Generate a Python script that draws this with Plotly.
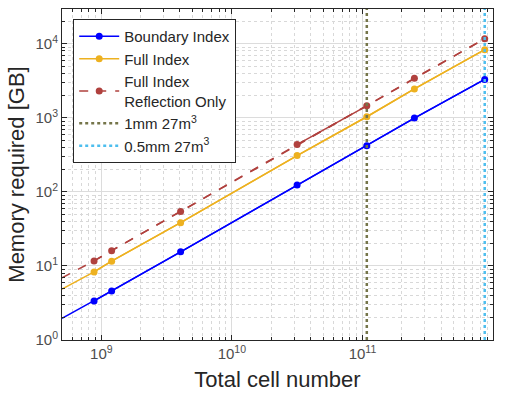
import numpy as np
import plotly.graph_objects as go

# Total cell counts for each simulated configuration
cells = [8.8e8, 1.2e9, 4.05e9, 3.16e10, 1.08e11, 2.5e11, 8.64e11]

# Memory required [GB]
boundary_index = [3.35, 4.6, 15.5, 124, 420, 993, 3300]
full_index = [8.3, 11.6, 38.4, 309, 1035, 2455, 8320]
full_index_reflection = [11.7, 16.1, 54.5, 435, 1455, 3435, 11700]

# Trend lines continue down to the left axis limit
trend_start_cells = 5e8
boundary_start = 1.96
full_start = 4.86
reflection_start = 6.9

# Reference grid resolutions (cells for a 27 m^3 domain)
res_1mm_cells = 1.08e11
res_05mm_cells = 8.64e11

x_range = [np.log10(5e8), 12.0]
y_range = [0.0, 4.47]

x_ticks = [1e9, 1e10, 1e11, 1e12]
x_ticktext = ["10<sup>9</sup>", "10<sup>10</sup>", "10<sup>11</sup>", "10<sup>12</sup>"]
y_ticks = [1, 10, 100, 1000, 10000]
y_ticktext = ["10<sup>0</sup>", "10<sup>1</sup>", "10<sup>2</sup>", "10<sup>3</sup>", "10<sup>4</sup>"]

BLUE = "#0000FF"
YELLOW = "#EDB120"
RED = "#B0413E"
OLIVE = "#75754A"
LIGHTBLUE = "#4DBEEE"
FONT = "Liberation Sans, Arial, sans-serif"

def minor_vals(lo, hi):
    vals = []
    for k in range(int(np.floor(lo)), int(np.ceil(hi)) + 1):
        for m in range(2, 10):
            v = m * 10.0 ** k
            if 10 ** lo <= v <= 10 ** hi:
                vals.append(v)
    return vals

fig = go.Figure()

def series(name, values, start, color, dash, show=True):
    fig.add_trace(go.Scatter(
        x=[trend_start_cells] + cells, y=[start] + values,
        mode="lines", line=dict(color=color, width=1.5, dash=dash),
        showlegend=False, hoverinfo="skip"))
    fig.add_trace(go.Scatter(
        x=cells, y=values, name=name, mode="lines+markers",
        line=dict(color=color, width=1.5, dash=dash),
        marker=dict(color=color, size=7), showlegend=show))

series("Boundary Index", boundary_index, boundary_start, BLUE, "solid")
series("Full Index", full_index, full_start, YELLOW, "solid")
series("Full Index<br>Reflection Only", full_index_reflection, reflection_start, RED, "dash")
# solid stretch of the reflection-only curve between the 4th and 5th points
fig.add_trace(go.Scatter(
    x=cells[3:5], y=full_index_reflection[3:5], mode="lines",
    line=dict(color=RED, width=1.5), showlegend=False, hoverinfo="skip"))

y_lo, y_hi = 10 ** y_range[0], 10 ** y_range[1]
fig.add_trace(go.Scatter(
    x=[res_1mm_cells, res_1mm_cells], y=[y_lo, y_hi], mode="lines",
    name="1mm 27m<sup>3</sup>", line=dict(color=OLIVE, width=2.5, dash="dot")))
fig.add_trace(go.Scatter(
    x=[res_05mm_cells, res_05mm_cells], y=[y_lo, y_hi], mode="lines",
    name="0.5mm 27m<sup>3</sup>", line=dict(color=LIGHTBLUE, width=2.5, dash="dot")))

axis_common = dict(
    type="log", showline=True, linecolor="#262626", linewidth=1, mirror="allticks",
    ticks="inside", ticklen=5, tickcolor="#262626",
    showgrid=True, gridcolor="#dcdcdc", gridwidth=1, zeroline=False,
    tickfont=dict(family=FONT, size=15, color="#4d4d4d"),
)

fig.update_xaxes(
    **axis_common, range=x_range, tickmode="array", tickvals=x_ticks, ticktext=x_ticktext,
    title=dict(text="Total cell number", font=dict(family=FONT, size=22, color="#262626"),
               standoff=10),
    minor=dict(tickmode="array", tickvals=minor_vals(*x_range), showgrid=True,
               gridcolor="#d8d8d8", griddash="dot", ticks="inside", ticklen=3, tickcolor="#262626"),
)
fig.update_yaxes(
    **axis_common, range=y_range, tickmode="array", tickvals=y_ticks, ticktext=y_ticktext,
    title=dict(text="Memory required [GB]", font=dict(family=FONT, size=22, color="#262626"),
               standoff=4),
    minor=dict(tickmode="array", tickvals=minor_vals(*y_range), showgrid=True,
               gridcolor="#d8d8d8", griddash="dot", ticks="inside", ticklen=3, tickcolor="#262626"),
)

fig.update_layout(
    width=505, height=396,
    margin=dict(l=62, r=12, t=9, b=56),
    paper_bgcolor="white", plot_bgcolor="white",
    font=dict(family=FONT, color="#262626"),
    legend=dict(x=0.026, y=0.97, xanchor="left", yanchor="top",
                bgcolor="white", bordercolor="#262626", borderwidth=1,
                font=dict(size=15, color="#262626"), itemwidth=40, tracegroupgap=0),
)

fig.write_html("out.html")
